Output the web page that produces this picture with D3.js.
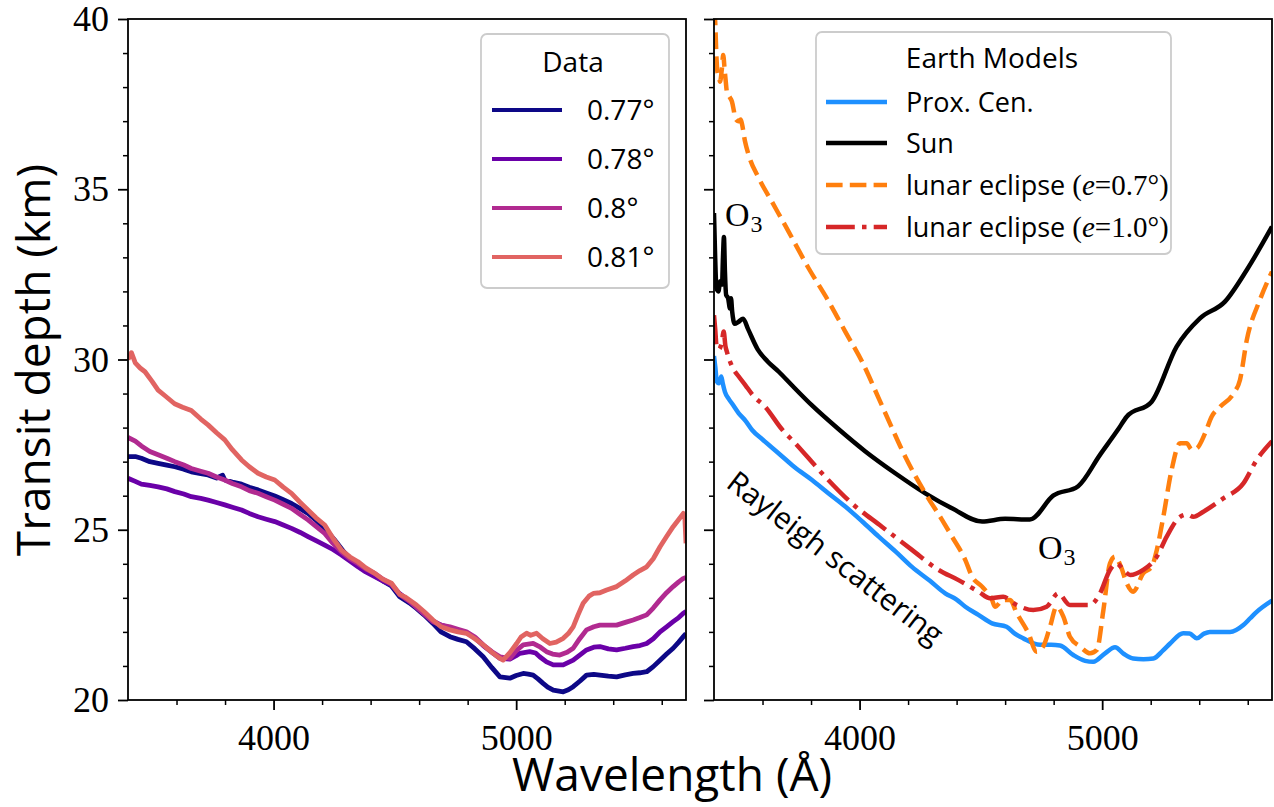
<!DOCTYPE html>
<html><head><meta charset="utf-8">
<script src="https://cdn.jsdelivr.net/npm/d3@7"></script>
<style>body{margin:0;background:#fff} svg{display:block}</style>
</head><body><svg id="c" width="1274" height="807"></svg>
<script>
// ---------- axis ticks ----------
const wavelengthDomain = [3400, 5700];
const depthDomain = [20, 40];
const wavelengthTicks = [4000, 5000];
const wavelengthMinor = [3600, 3800, 4200, 4400, 4600, 4800, 5200, 5400, 5600];
const depthTicks = [20, 25, 30, 35, 40];
const depthMinor = [21, 22, 23, 24, 26, 27, 28, 29, 31, 32, 33, 34, 36, 37, 38, 39];

// ---------- left panel: data ----------
const dataLabels = ["0.77°", "0.78°", "0.8°", "0.81°"];
const dataColors = ["#0d0887", "#6a00a8", "#b12a90", "#e16462"];

const data077 = [[3400,27.15],[3430,27.15],[3455,27.1],[3490,27.0],[3524,26.95],[3560,26.9],[3593,26.85],[3630,26.78],[3661,26.7],[3700,26.65],[3730,26.61],[3765,26.52],[3790,26.6],[3799,26.46],[3830,26.4],[3868,26.34],[3900,26.25],[3936,26.17],[3970,26.08],[4005,25.99],[4040,25.88],[4074,25.77],[4110,25.62],[4142,25.48],[4175,25.28],[4211,25.04],[4252,24.7],[4290,24.35],[4330,24.05],[4370,23.85],[4417,23.65],[4450,23.5],[4486,23.35],[4520,23.03],[4560,22.85],[4589,22.69],[4620,22.5],[4657,22.25],[4690,22.0],[4727,21.86],[4760,21.78],[4795,21.71],[4830,21.5],[4864,21.27],[4900,20.95],[4933,20.68],[4974,20.64],[5000,20.72],[5029,20.78],[5050,20.76],[5070,20.73],[5090,20.62],[5111,20.49],[5130,20.38],[5153,20.29],[5194,20.24],[5215,20.3],[5235,20.39],[5262,20.55],[5290,20.73],[5320,20.75],[5345,20.73],[5380,20.7],[5414,20.68],[5450,20.74],[5482,20.78],[5510,20.8],[5538,20.83],[5565,20.98],[5593,21.17],[5620,21.35],[5647,21.52],[5670,21.7],[5689,21.86],[5700,21.95]];

const data078 = [[3400,26.51],[3430,26.42],[3455,26.34],[3490,26.3],[3524,26.26],[3560,26.2],[3593,26.12],[3630,26.05],[3661,25.97],[3700,25.92],[3730,25.87],[3765,25.8],[3799,25.73],[3830,25.66],[3868,25.58],[3900,25.48],[3936,25.38],[3970,25.31],[4005,25.24],[4040,25.14],[4074,25.04],[4110,24.92],[4142,24.8],[4175,24.68],[4211,24.55],[4245,24.42],[4280,24.26],[4315,24.08],[4348,23.91],[4380,23.76],[4417,23.62],[4450,23.5],[4486,23.38],[4520,23.12],[4560,22.9],[4600,22.68],[4657,22.32],[4690,22.2],[4727,22.12],[4760,22.05],[4795,21.98],[4830,21.82],[4864,21.6],[4900,21.4],[4933,21.22],[4974,21.2],[5000,21.3],[5015,21.37],[5056,21.42],[5080,21.38],[5097,21.27],[5125,21.12],[5153,21.03],[5194,21.03],[5235,21.17],[5262,21.32],[5290,21.47],[5320,21.55],[5345,21.57],[5380,21.5],[5414,21.47],[5450,21.52],[5482,21.57],[5510,21.6],[5538,21.66],[5565,21.8],[5593,22.0],[5620,22.15],[5647,22.3],[5670,22.42],[5689,22.55],[5700,22.6]];

const data080 = [[3400,27.71],[3430,27.6],[3455,27.46],[3490,27.3],[3524,27.2],[3560,27.1],[3593,27.0],[3630,26.9],[3661,26.8],[3700,26.72],[3730,26.66],[3765,26.55],[3799,26.46],[3830,26.36],[3868,26.26],[3900,26.15],[3936,26.07],[3970,25.97],[4005,25.87],[4040,25.75],[4074,25.63],[4110,25.45],[4142,25.29],[4175,25.1],[4211,24.89],[4245,24.6],[4280,24.35],[4315,24.15],[4348,24.01],[4380,23.85],[4417,23.72],[4450,23.55],[4486,23.4],[4520,23.1],[4560,22.9],[4600,22.65],[4657,22.3],[4690,22.2],[4727,22.15],[4760,22.08],[4795,22.0],[4830,21.85],[4864,21.62],[4900,21.42],[4933,21.27],[4974,21.22],[5000,21.45],[5029,21.62],[5070,21.66],[5100,21.55],[5125,21.42],[5150,21.35],[5180,21.32],[5210,21.4],[5235,21.52],[5262,21.8],[5290,22.06],[5320,22.15],[5345,22.2],[5380,22.2],[5414,22.2],[5450,22.28],[5482,22.35],[5510,22.42],[5538,22.5],[5565,22.7],[5593,22.94],[5620,23.15],[5647,23.33],[5670,23.47],[5689,23.57],[5700,23.6]];

const data081 = [[3400,30.0],[3414,30.2],[3430,29.9],[3450,29.75],[3470,29.64],[3500,29.35],[3524,29.1],[3550,28.95],[3592,28.7],[3625,28.6],[3661,28.5],[3700,28.25],[3730,28.08],[3765,27.85],[3799,27.64],[3830,27.35],[3868,27.05],[3900,26.85],[3936,26.66],[3970,26.55],[4005,26.46],[4040,26.25],[4074,26.07],[4110,25.8],[4142,25.58],[4175,25.35],[4211,25.14],[4245,24.75],[4280,24.4],[4315,24.2],[4348,24.06],[4380,23.88],[4417,23.72],[4450,23.55],[4486,23.43],[4520,23.1],[4541,23.03],[4589,22.79],[4620,22.6],[4657,22.35],[4690,22.15],[4727,22.06],[4760,22.0],[4795,21.96],[4830,21.8],[4864,21.62],[4900,21.4],[4933,21.22],[4946,21.17],[4975,21.4],[5002,21.66],[5020,21.85],[5043,21.96],[5060,21.9],[5084,21.96],[5110,21.8],[5139,21.66],[5165,21.7],[5194,21.81],[5215,21.95],[5235,22.15],[5255,22.5],[5276,22.84],[5300,23.05],[5318,23.13],[5345,23.15],[5373,23.23],[5414,23.33],[5450,23.5],[5482,23.67],[5510,23.8],[5538,23.91],[5565,24.15],[5593,24.5],[5620,24.8],[5647,25.09],[5670,25.3],[5689,25.48],[5695,25.4],[5700,24.6]];

// ---------- right panel: models ----------
const modelLabels = ["Prox. Cen.", "Sun", "lunar eclipse (e=0.7°)", "lunar eclipse (e=1.0°)"];
const modelColors = ["#1e90ff", "#000000", "#ff7f0e", "#d62728"];

const proxCen = [[3400,30.1],[3405,29.8],[3412,29.35],[3420,29.3],[3430,29.5],[3436,29.3],[3445,29.05],[3460,28.85],[3475,28.7],[3502,28.42],[3530,28.2],[3557,27.93],[3600,27.65],[3667,27.24],[3730,26.85],[3804,26.46],[3870,26.08],[3941,25.68],[4010,25.25],[4079,24.8],[4150,24.35],[4216,23.91],[4290,23.5],[4353,23.13],[4400,22.95],[4436,22.74],[4490,22.5],[4546,22.25],[4606,22.15],[4640,21.95],[4675,21.81],[4744,21.62],[4790,21.62],[4826,21.6],[4881,21.32],[4930,21.15],[4963,21.12],[5012,21.37],[5053,21.55],[5090,21.35],[5128,21.22],[5170,21.2],[5211,21.22],[5250,21.45],[5280,21.66],[5334,21.96],[5360,21.95],[5390,21.81],[5420,21.95],[5444,22.0],[5527,22.0],[5582,22.2],[5610,22.4],[5637,22.59],[5700,22.92]];

const sun = [[3400,34.3],[3404,33.2],[3410,32.1],[3418,32.0],[3426,32.3],[3433,32.2],[3437,33.0],[3441,33.6],[3445,32.6],[3450,31.9],[3458,31.8],[3466,31.5],[3470,31.8],[3475,31.4],[3485,31.05],[3500,31.1],[3520,31.2],[3540,30.9],[3580,30.3],[3620,29.95],[3667,29.64],[3720,29.25],[3804,28.65],[3914,27.95],[4024,27.3],[4147,26.66],[4271,26.07],[4381,25.63],[4505,25.24],[4600,25.32],[4702,25.3],[4798,26.0],[4901,26.28],[4991,27.2],[5066,27.95],[5101,28.32],[5204,28.76],[5307,30.38],[5403,31.21],[5506,31.7],[5596,32.63],[5700,33.9]];

const lunar07 = [[3400,40.3],[3405,39.9],[3410,38.9],[3414,38.45],[3420,38.3],[3425,38.16],[3432,38.5],[3438,38.94],[3444,38.5],[3448,38.2],[3453,37.87],[3465,37.7],[3474,37.57],[3482,37.3],[3488,37.08],[3500,37.0],[3510,37.05],[3515,36.93],[3528,36.4],[3543,36.0],[3585,35.32],[3639,34.63],[3708,33.75],[3790,32.68],[3873,31.7],[3941,30.82],[4010,29.94],[4079,28.86],[4134,27.98],[4188,27.15],[4271,26.07],[4340,25.29],[4381,24.8],[4436,24.11],[4464,23.62],[4505,23.33],[4546,22.94],[4558,22.74],[4592,22.94],[4620,22.94],[4648,22.55],[4696,21.96],[4730,21.42],[4757,21.57],[4785,22.15],[4812,22.74],[4840,22.45],[4867,21.86],[4909,21.57],[4950,21.37],[4978,21.47],[5005,22.64],[5032,24.01],[5053,24.21],[5078,23.9],[5101,23.43],[5128,23.18],[5169,23.72],[5204,23.91],[5225,24.4],[5252,25.38],[5286,26.75],[5321,27.54],[5348,27.54],[5370,27.35],[5390,27.39],[5424,27.83],[5451,28.32],[5486,28.61],[5541,29.0],[5568,29.4],[5596,30.57],[5650,31.75],[5700,32.58]];

const lunar10 = [[3400,31.3],[3405,30.9],[3410,30.43],[3420,30.3],[3432,30.5],[3440,30.82],[3447,30.4],[3453,30.23],[3474,29.8],[3502,29.5],[3529,29.25],[3560,28.95],[3611,28.61],[3680,27.95],[3735,27.54],[3845,26.66],[3969,25.77],[4092,25.09],[4216,24.41],[4326,23.82],[4408,23.52],[4491,23.18],[4538,22.99],[4592,23.03],[4648,22.79],[4716,22.64],[4771,22.74],[4819,23.13],[4867,22.79],[4950,22.79],[4991,23.13],[5032,23.82],[5060,24.01],[5090,23.8],[5115,23.67],[5169,23.82],[5225,24.21],[5266,24.8],[5321,25.38],[5350,25.45],[5376,25.38],[5417,25.53],[5499,25.92],[5582,26.36],[5637,27.05],[5700,27.6]];

// ---------- drawing ----------
const svg = d3.select("#c");
const yTop = 19, yBot = 700;
const panels = [{x0: 128, x1: 686, id: "pl"}, {x0: 714, x1: 1272, id: "pr"}];
const y = d3.scaleLinear().domain(depthDomain).range([yBot, yTop]);
const xL = d3.scaleLinear().domain(wavelengthDomain).range([panels[0].x0, panels[0].x1]);
const xR = d3.scaleLinear().domain(wavelengthDomain).range([panels[1].x0, panels[1].x1]);
const SERIF = "'Liberation Serif', 'DejaVu Serif', serif";
const SANS = "'Open Sans', 'DejaVu Sans', sans-serif";

const defs = svg.append("defs");
panels.forEach(p => {
  defs.append("clipPath").attr("id", "clip-" + p.id)
    .append("rect").attr("x", p.x0).attr("y", yTop).attr("width", p.x1 - p.x0).attr("height", yBot - yTop);
});

function drawAxes(p, x, showLabels) {
  const g = svg.append("g");
  const xa = g.append("g").attr("transform", `translate(0,${yBot})`)
    .call(d3.axisBottom(x).tickValues(wavelengthTicks).tickSize(10).tickPadding(14).tickFormat(d3.format("d")));
  xa.select(".domain").remove();
  xa.selectAll("line").attr("stroke", "#000").attr("stroke-width", 1.8);
  xa.selectAll("text").attr("font-family", SERIF).attr("font-size", 36).attr("fill", "#000");
  const xm = g.append("g").attr("transform", `translate(0,${yBot})`)
    .call(d3.axisBottom(x).tickValues(wavelengthMinor).tickSize(5).tickFormat(""));
  xm.select(".domain").remove();
  xm.selectAll("line").attr("stroke", "#000").attr("stroke-width", 1.5);
  const ya = g.append("g").attr("transform", `translate(${p.x0},0)`)
    .call(d3.axisLeft(y).tickValues(depthTicks).tickSize(10).tickPadding(9).tickFormat(showLabels ? d3.format("d") : ""));
  ya.select(".domain").remove();
  ya.selectAll("line").attr("stroke", "#000").attr("stroke-width", 1.8);
  ya.selectAll("text").attr("font-family", SERIF).attr("font-size", 36).attr("fill", "#000");
  const ym = g.append("g").attr("transform", `translate(${p.x0},0)`)
    .call(d3.axisLeft(y).tickValues(depthMinor).tickSize(5).tickFormat(""));
  ym.select(".domain").remove();
  ym.selectAll("line").attr("stroke", "#000").attr("stroke-width", 1.5);
}

function frame(p) {
  svg.append("rect").attr("x", p.x0).attr("y", yTop).attr("width", p.x1 - p.x0).attr("height", yBot - yTop)
    .attr("fill", "none").attr("stroke", "#000").attr("stroke-width", 1.8);
}

// ----- left panel -----
const lineL = d3.line().x(d => xL(d[0])).y(d => y(d[1]));
const gL = svg.append("g").attr("clip-path", "url(#clip-pl)");
[data077, data078, data080, data081].forEach((s, i) => {
  gL.append("path").attr("d", lineL(s)).attr("fill", "none")
    .attr("stroke", dataColors[i]).attr("stroke-width", 4.8).attr("stroke-linejoin", "round");
});
drawAxes(panels[0], xL, true);
frame(panels[0]);

// ----- right panel -----
const lineR = d3.line().x(d => xR(d[0])).y(d => y(d[1])).curve(d3.curveMonotoneX);
const gR = svg.append("g").attr("clip-path", "url(#clip-pr)");
const modelDash = [null, null, "16.6,7.2", "28.8,7.2,4.5,7.2"];
[proxCen, sun, lunar07, lunar10].forEach((s, i) => {
  gR.append("path").attr("d", lineR(s)).attr("fill", "none")
    .attr("stroke", modelColors[i]).attr("stroke-width", 4.5)
    .attr("stroke-dasharray", modelDash[i]).attr("stroke-linejoin", "round");
});
drawAxes(panels[1], xR, false);
frame(panels[1]);

// ----- annotations -----
function o3(xp, yp) {
  const t = svg.append("text").attr("x", xp).attr("y", yp).attr("font-family", SERIF).attr("font-size", 34).attr("fill", "#000");
  t.append("tspan").text("O");
  t.append("tspan").attr("font-size", 24).attr("dy", 6).attr("dx", 1).text("3");
}
o3(725, 226);
o3(1038, 559);
svg.append("text").attr("transform", "translate(836,557) rotate(37.5)")
  .attr("text-anchor", "middle").attr("dominant-baseline", "central")
  .attr("font-family", SANS).attr("font-size", 30).attr("fill", "#000").text("Rayleigh scattering");

// ----- axis labels -----
svg.append("text").attr("x", 672).attr("y", 791).attr("text-anchor", "middle")
  .attr("font-family", SANS).attr("font-size", 46).attr("fill", "#000").text("Wavelength (Å)");
svg.append("text").attr("transform", "translate(50,360) rotate(-90)").attr("text-anchor", "middle")
  .attr("font-family", SANS).attr("font-size", 46).attr("fill", "#000").text("Transit depth (km)");

// ----- legends -----
function legendBox(x0, y0, w, h) {
  svg.append("rect").attr("x", x0).attr("y", y0).attr("width", w).attr("height", h).attr("rx", 6)
    .attr("fill", "#fff").attr("fill-opacity", 0.8).attr("stroke", "#cccccc").attr("stroke-width", 1.8);
}
legendBox(481, 34, 188, 254);
svg.append("text").attr("x", 573).attr("y", 72).attr("text-anchor", "middle")
  .attr("font-family", SANS).attr("font-size", 28).attr("fill", "#000").text("Data");
const dataLegY = [110, 159, 208, 257];
dataLabels.forEach((lab, i) => {
  svg.append("line").attr("x1", 492).attr("x2", 562).attr("y1", dataLegY[i]).attr("y2", dataLegY[i])
    .attr("stroke", dataColors[i]).attr("stroke-width", 4.2);
  svg.append("text").attr("x", 587).attr("y", dataLegY[i] + 10)
    .attr("font-family", SANS).attr("font-size", 28).attr("fill", "#000").text(lab);
});

legendBox(816, 32, 355, 222);
svg.append("text").attr("x", 992).attr("y", 68).attr("text-anchor", "middle")
  .attr("font-family", SANS).attr("font-size", 28).attr("fill", "#000").text("Earth Models");
const modelLegY = [102, 143, 185, 227];
modelLabels.forEach((lab, i) => {
  svg.append("line").attr("x1", 826).attr("x2", 887).attr("y1", modelLegY[i]).attr("y2", modelLegY[i])
    .attr("stroke", modelColors[i]).attr("stroke-width", 4.5).attr("stroke-dasharray", modelDash[i]);
  const t = svg.append("text").attr("x", 906).attr("y", modelLegY[i] + 10)
    .attr("font-family", SANS).attr("font-size", 27).attr("fill", "#000");
  const m = lab.match(/^(.*?)\((e)=(.*)\)$/);
  if (m) {
    t.append("tspan").text(m[1]);
    t.append("tspan").attr("font-family", SERIF).attr("font-size", 29).text("(");
    t.append("tspan").attr("font-family", SERIF).attr("font-size", 29).attr("font-style", "italic").text(m[2]);
    t.append("tspan").attr("font-family", SERIF).attr("font-size", 29).text("=" + m[3] + ")");
  } else {
    t.text(lab);
  }
});
</script>
</body></html>
